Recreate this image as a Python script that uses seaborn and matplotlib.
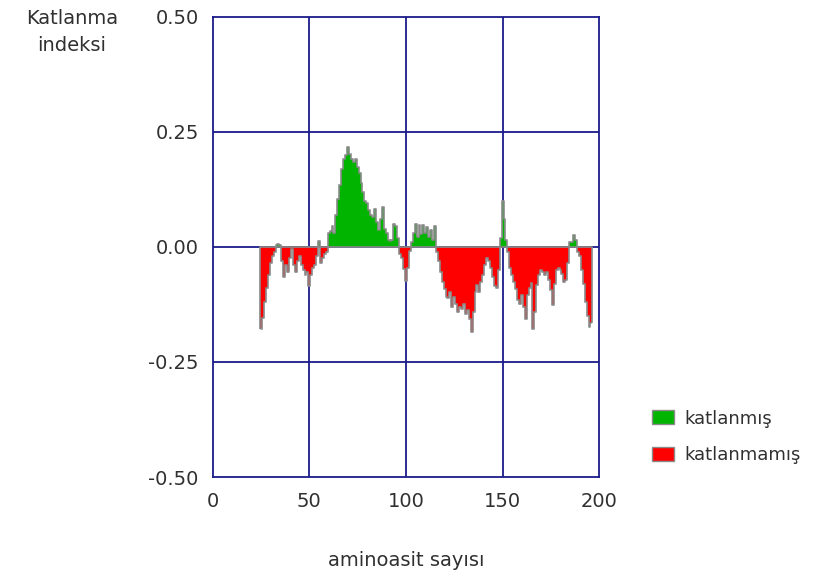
import numpy as np
import matplotlib
matplotlib.use("Agg")
import matplotlib.pyplot as plt
from matplotlib.patches import Patch
import seaborn as sns

# ---- data ----
first_residue = 25
fold_index = [
    -0.178, -0.155, -0.12, -0.09, -0.06, -0.035, -0.02, -0.01, 0.005, 0.007,   # 25-34
    0.004, -0.03, -0.065, -0.04, -0.055, -0.025, -0.005, -0.04, -0.055, -0.03,  # 35-44
    -0.02, -0.04, -0.05, -0.06, -0.055, -0.085, -0.06, -0.045, -0.04, -0.02,    # 45-54
    0.012, -0.035, -0.025, -0.015, -0.01, 0.03, 0.035, 0.045, 0.03, 0.07,       # 55-64
    0.105, 0.135, 0.17, 0.19, 0.2, 0.217, 0.203, 0.19, 0.185, 0.19,             # 65-74
    0.174, 0.16, 0.14, 0.12, 0.10, 0.095, 0.08, 0.07, 0.065, 0.083,             # 75-84
    0.055, 0.036, 0.06, 0.087, 0.04, 0.03, 0.014, 0.012, 0.015, 0.05,           # 85-94
    0.045, 0.02, -0.015, -0.025, -0.047, -0.075, -0.045, -0.008, 0.01, 0.03,    # 95-104
    0.05, 0.022, 0.047, 0.029, 0.047, 0.03, 0.043, 0.022, 0.036, 0.014,         # 105-114
    0.045, -0.01, -0.03, -0.054, -0.076, -0.091, -0.109, -0.112, -0.098, -0.13, # 115-124
    -0.109, -0.123, -0.141, -0.13, -0.134, -0.123, -0.145, -0.138, -0.156, -0.185,  # 125-134
    -0.141, -0.098, -0.083, -0.098, -0.076, -0.062, -0.04, -0.025, -0.03, -0.045,   # 135-144
    -0.065, -0.085, -0.09, -0.05, 0.02, 0.1, 0.06, 0.015, -0.011, -0.045,           # 145-154
    -0.06, -0.076, -0.091, -0.115, -0.123, -0.105, -0.13, -0.156, -0.105, -0.09,    # 155-164
    -0.078, -0.178, -0.141, -0.083, -0.062, -0.05, -0.055, -0.062, -0.054, -0.072,  # 165-174
    -0.094, -0.127, -0.08, -0.05, -0.045, -0.05, -0.058, -0.076, -0.072, -0.036,    # 175-184
    0.011, 0.01, 0.026, 0.015, -0.011, -0.02, -0.05, -0.08, -0.12, -0.15,           # 185-194
    -0.175, -0.165,                                                                  # 195-196
]
x_ticks = [0, 50, 100, 150, 200]
y_ticks = [-0.50, -0.25, 0.00, 0.25, 0.50]
y_tick_labels = ["-0.50", "-0.25", "0.00", "0.25", "0.50"]
legend_labels = ["katlanmış", "katlanmamış"]
x_label = "aminoasit sayısı"
y_label = "Katlanma\nindeksi"

# ---- style ----
sns.set_style("white")
plt.rcParams['font.family'] = ['DejaVu Sans']
GREEN = "#00b400"
RED = "#ff0000"
GRAY = "#8a8a8a"
NAVY = "#1a1a8a"
TXT = "#303030"

residues = np.arange(first_residue, first_residue + len(fold_index))
values = np.array(fold_index)
colors = [GREEN if v >= 0 else RED for v in values]

fig = plt.figure(figsize=(8.31, 5.81), dpi=100)
ax = fig.add_axes([0.256, 0.179, 0.465, 0.792])

ax.set_xlim(x_ticks[0], x_ticks[-1])
ax.set_ylim(y_ticks[0], y_ticks[-1])

# grid
for xv in x_ticks[1:-1]:
    ax.axvline(xv, color=NAVY, lw=1.3, zorder=1)
for yv in y_ticks[1:-1]:
    ax.axhline(yv, color=NAVY, lw=1.3, zorder=1)

# colored bars
ax.bar(residues, values, width=1.0, color=colors, edgecolor="none", linewidth=0, zorder=2)
# gray outline
sns.lineplot(x=residues, y=values, drawstyle="steps-mid", color=GRAY, lw=1.2,
             ax=ax, zorder=3, estimator=None)
ax.plot([residues[0] - 0.5, residues[-1] + 0.5], [0, 0], color=GRAY, lw=1.2, zorder=3)
ax.vlines([residues[0] - 0.5, residues[-1] + 0.5], 0, [values[0], values[-1]],
          color=GRAY, lw=1.2, zorder=3)

for s in ax.spines.values():
    s.set_visible(True)
    s.set_color(NAVY)
    s.set_linewidth(1.3)

ax.set_xticks(x_ticks)
ax.set_xticklabels([str(t) for t in x_ticks])
ax.set_yticks(y_ticks)
ax.set_yticklabels(y_tick_labels)
ax.tick_params(axis="both", length=0, labelsize=14, colors=TXT)
ax.tick_params(axis="y", pad=10)
ax.tick_params(axis="x", pad=11)
ax.set_xlabel("")
ax.set_ylabel("")

fig.text(406 / 831, 1 - 560 / 581, x_label, ha="center", va="center", fontsize=14, color=TXT)
fig.text(72 / 831, 1 - 32 / 581, y_label, ha="center", va="center", fontsize=14,
         color=TXT, linespacing=1.55)

handles = [Patch(facecolor=GREEN, edgecolor=GRAY, linewidth=1.0),
           Patch(facecolor=RED, edgecolor=GRAY, linewidth=1.0)]
leg = fig.legend(handles, legend_labels, loc="center left",
                 bbox_to_anchor=(636 / 831, 1 - 437 / 581), frameon=False,
                 fontsize=13, handlelength=1.2, handleheight=0.8,
                 handletextpad=0.6, labelspacing=1.05)
for t in leg.get_texts():
    t.set_color(TXT)

fig.savefig("out.png", dpi=100)
